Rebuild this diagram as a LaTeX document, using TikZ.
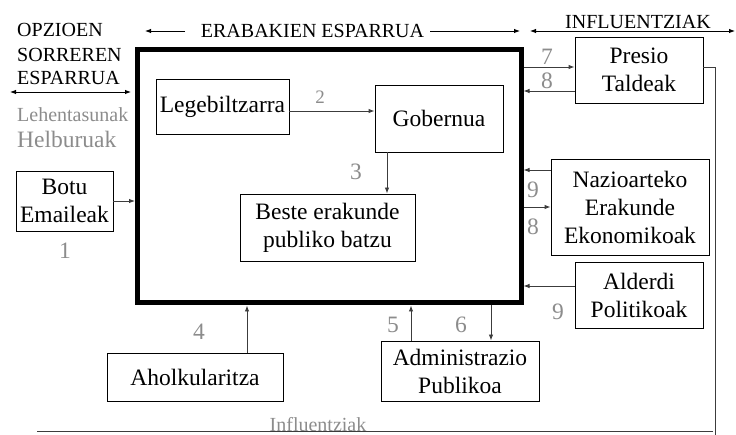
\documentclass[tikz,border=0pt]{standalone}
\usepackage{fontspec}
\setmainfont{Liberation Serif}
\usetikzlibrary{arrows.meta}
\definecolor{numgray}{RGB}{140,140,140}
\definecolor{linegray}{RGB}{60,60,60}
\begin{document}
\begin{tikzpicture}[x=1pt,y=-1pt,
  box/.style={draw=black,line width=0.9pt,inner sep=0pt,align=center,
    font=\fontsize{23.5}{28}\selectfont},
  bigbox/.style={draw=black,line width=5pt,inner sep=0pt},
  conn/.style={draw=linegray,line width=0.9pt,-{Latex[length=6pt,width=4.5pt]}},
  dconn/.style={draw=black,line width=0.9pt,{Latex[length=6pt,width=4.5pt]}-{Latex[length=6pt,width=4.5pt]}},
  plain/.style={draw=linegray,line width=0.9pt},
  num/.style={text=numgray,inner sep=0pt,font=\fontsize{23.5}{28}\selectfont},
  head/.style={inner sep=0pt,font=\fontsize{20}{24}\selectfont},
  graylbl/.style={text=numgray,inner sep=0pt}
]
\useasboundingbox (0,0) rectangle (736,435);

% main frame
\node[bigbox,minimum width=383.5pt,minimum height=253pt] (big) at (329.25,176.5) {};

% boxes
\node[box,minimum width=133pt,minimum height=55pt] (leg) at (222.5,106.5) {Legebiltzarra};
\node[box,minimum width=128pt,minimum height=67pt] (gob) at (439,118.5) {Gobernua};
\node[box,minimum width=175pt,minimum height=67pt] (beste) at (327.5,227.5) {Beste erakunde\\publiko batzu};
\node[box,minimum width=97pt,minimum height=60pt] (botu) at (64.5,201) {Botu\\Emaileak};
\node[box,minimum width=128pt,minimum height=66pt] (presio) at (639,70) {Presio\\Taldeak};
\node[box,minimum width=158pt,minimum height=96pt] (nazio) at (630,207) {Nazioarteko\\Erakunde\\Ekonomikoak};
\node[box,minimum width=128pt,minimum height=66pt] (alderdi) at (639,295) {Alderdi\\Politikoak};
\node[box,minimum width=158pt,minimum height=60pt] (admin) at (460,371) {Administrazio\\Publikoa};
\node[box,minimum width=176pt,minimum height=48pt] (ahol) at (195,377) {Aholkularitza};

% headings
\node[head,anchor=base west,align=left] (opz) at (17,37) {OPZIOEN};
\node[head,anchor=base west] (sor) at (17,62) {SORREREN};
\node[head,anchor=base west] (esp) at (17,85) {ESPARRUA};
\node[head,anchor=base] (erab) at (312.5,38) {ERABAKIEN ESPARRUA};
\node[head,anchor=base] (infl) at (638,29) {INFLUENTZIAK};
\node[graylbl,anchor=base west,font=\fontsize{20}{24}\selectfont] (leh) at (17,122) {Lehentasunak};
\node[graylbl,anchor=base west,font=\fontsize{23.5}{28}\selectfont] (helb) at (17,148) {Helburuak};
\node[graylbl,anchor=base,font=\fontsize{20}{24}\selectfont] (inflb) at (318,431.5) {Influentziak};

% helper coordinates
\coordinate (a1L) at (185,31);
\coordinate (a1R) at (145,31);
\coordinate (a2L) at (430,31);
\coordinate (a2R) at (520,31);
\coordinate (a3L) at (530,31);
\coordinate (a3R) at (735,31);
\coordinate (a4L) at (10,92);
\coordinate (a4R) at (131,92);
\coordinate (y67) at (0,67);
\coordinate (y91) at (0,91);
\coordinate (y111) at (0,111);
\coordinate (y170) at (0,170);
\coordinate (y207) at (0,207);
\coordinate (y286) at (0,286);
\coordinate (x247) at (247,0);
\coordinate (x387) at (387,0);
\coordinate (x411) at (411,0);
\coordinate (x491) at (491,0);
\coordinate (fbturn) at (715,67);
\coordinate (fbend) at (715,435);
\coordinate (fbl) at (37,431);
\coordinate (fbr) at (713,431);

% heading arrows
\draw[conn,draw=black] (a1L) -- (a1R);
\draw[conn,draw=black] (a2L) -- (a2R);
\draw[dconn] (a3L) -- (a3R);
\draw[dconn] (a4L) -- (a4R);

% connectors
\draw[conn] (leg.east |- y111) -- (gob.west |- y111);
\draw[conn] (gob.south -| x387) -- (beste.north -| x387);
\draw[conn] (botu.east) -- (botu.east -| big.west);
\draw[conn] (ahol.north -| x247) -- (big.south -| x247);
\draw[conn] (admin.north -| x411) -- (big.south -| x411);
\draw[conn] (big.south -| x491) -- (admin.north -| x491);
\draw[conn] (big.east |- y67) -- (presio.west |- y67);
\draw[conn] (presio.west |- y91) -- (big.east |- y91);
\draw[conn] (nazio.west |- y170) -- (big.east |- y170);
\draw[conn] (big.east |- y207) -- (nazio.west |- y207);
\draw[conn] (alderdi.west |- y286) -- (big.east |- y286);

% feedback line
\draw[plain] (presio.east |- y67) -- (fbturn) -- (fbend);
\draw[plain] (fbl) -- (fbr);

% number labels
\node[num,font=\fontsize{19}{22}\selectfont] (n2) at (320,97) {2};
\node[num] (n3) at (356,172) {3};
\node[num] (n1) at (65,251) {1};
\node[num] (n4) at (199,332) {4};
\node[num] (n5) at (393,325) {5};
\node[num] (n6) at (461,325) {6};
\node[num] (n7) at (547,57) {7};
\node[num] (n8a) at (547,81) {8};
\node[num] (n9a) at (533,190) {9};
\node[num] (n8b) at (533,227) {8};
\node[num] (n9b) at (558,311.5) {9};
\end{tikzpicture}
\end{document}
